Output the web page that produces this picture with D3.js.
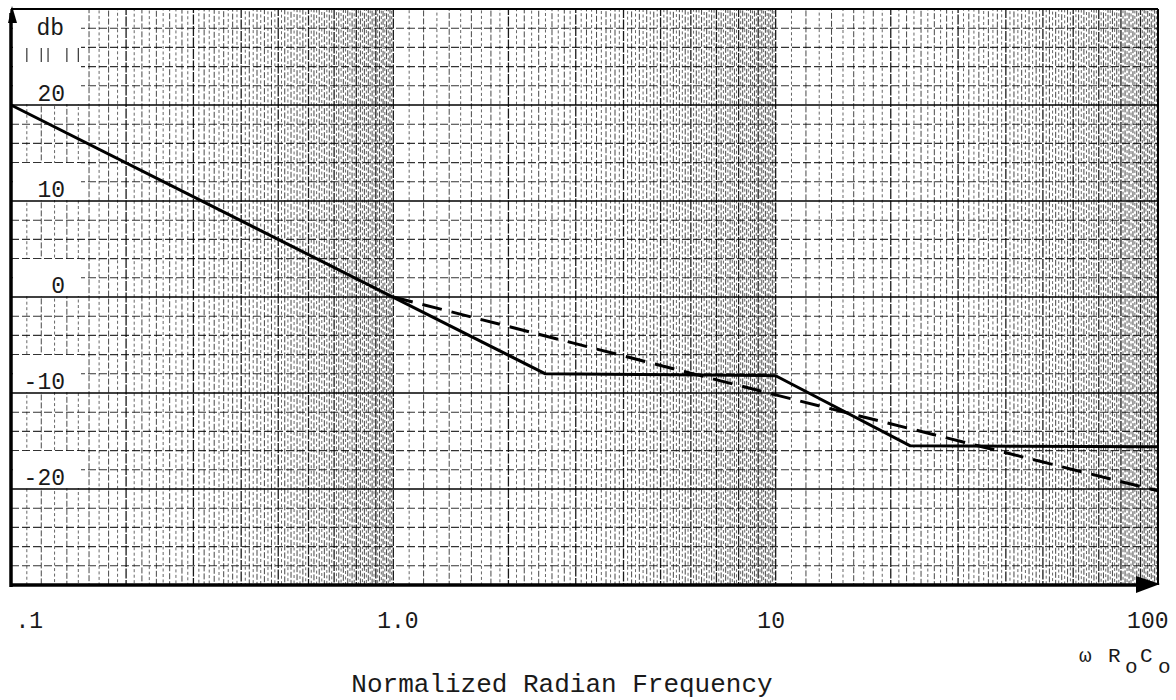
<!DOCTYPE html>
<html>
<head>
<meta charset="utf-8">
<script src="https://cdn.jsdelivr.net/npm/d3@7"></script>
<style>
  html, body { margin: 0; padding: 0; background: #fff; }
  svg { display: block; }
  text { font-family: "Liberation Mono", "DejaVu Sans Mono", monospace; fill: #1a1a1a; }
</style>
</head>
<body>
<svg id="chart" width="1176" height="700"></svg>
<script>
// ---- data ----
const xTickValues = [0.1, 1, 10, 100];
const xTickLabels = [".1", "1.0", "10", "100"];
const yTickValues = [20, 10, 0, -10, -20];
const yTickLabels = ["20", "10", "0", "-10", "-20"];
const solidOmega = [0.1, 2.5, 10, 22.5, 100];
const solidDb    = [20, -8, -8.2, -15.5, -15.6];
const dashedOmega = [1, 10, 100];
const dashedDb    = [0, -10.2, -20.2];
const yUnit = "db";
const xTitle = "Normalized Radian Frequency";

// ---- layout ----
const svg = d3.select("#chart");
const L = 11, R = 1158, T = 9, B = 585;
const x = d3.scaleLog().domain([0.1, 100]).range([L, R]);
const y = d3.scaleLinear().domain([-30, 30]).range([B, T]);

// ---- grid: semi-log paper ----
const grid = svg.append("g");
const vLines = [];
[0.1, 1, 10].forEach(dec => {
  for (let k = 10; k < 100; k++) {
    const m = k / 10;
    vLines.push({ v: m * dec, major: k % 10 === 0, k });
  }
});
grid.selectAll("line.v").data(vLines).join("line")
  .attr("x1", d => x(d.v)).attr("x2", d => x(d.v))
  .attr("y1", T).attr("y2", B)
  .attr("stroke", "#000")
  .attr("stroke-width", d => d.major ? 1.3 : 1)
  .attr("stroke-opacity", d => d.major ? 0.9 : (d.k % 2 === 0 ? 0.72 : 0.6))
  .attr("stroke-dasharray", d => d.major ? "10,1.5" : (d.k % 2 === 0 ? "6,2" : "3,2.5"))
  .attr("stroke-dashoffset", d => (d.k * 2.3) % 7);

const hMinor = d3.range(-30, 31, 2).filter(v => v % 10 !== 0);
grid.selectAll("line.hm").data(hMinor).join("line")
  .attr("x1", L).attr("x2", R)
  .attr("y1", d => y(d)).attr("y2", d => y(d))
  .attr("stroke", "#000").attr("stroke-width", 1.1)
  .attr("stroke-opacity", 0.8).attr("stroke-dasharray", "8,3");

const hMajor = d3.range(-20, 21, 10);
grid.selectAll("line.hM").data(hMajor).join("line")
  .attr("x1", L).attr("x2", R)
  .attr("y1", d => y(d)).attr("y2", d => y(d))
  .attr("stroke", "#000").attr("stroke-width", 1.7);

// white label boxes (erased paper behind the y labels)
const boxes = svg.append("g");
boxes.append("rect").attr("x", L + 2).attr("y", T + 1).attr("width", 68).attr("height", y(20) - T - 2).attr("fill", "#fff");
yTickValues.filter(v => v !== 20).forEach(v => {
  boxes.append("rect").attr("x", L + 2).attr("y", y(v) - 38).attr("width", 68).attr("height", 37).attr("fill", "#fff");
});
// little grid remnants under "db"
[0.11, 0.12, 0.125, 0.14, 0.15].forEach(v => {
  boxes.append("line").attr("x1", x(v)).attr("x2", x(v)).attr("y1", 48).attr("y2", 62)
    .attr("stroke", "#000").attr("stroke-width", 1.2).attr("stroke-opacity", 0.8);
});

// border
svg.append("line").attr("x1", L).attr("x2", R).attr("y1", T).attr("y2", T).attr("stroke", "#000").attr("stroke-width", 1.8);
svg.append("line").attr("x1", R).attr("x2", R).attr("y1", T).attr("y2", B).attr("stroke", "#000").attr("stroke-width", 2);

// ---- curves ----
const line = d3.line().x(d => x(d[0])).y(d => y(d[1]));
svg.append("path")
  .datum(dashedOmega.map((w, i) => [w, dashedDb[i]]))
  .attr("d", line).attr("fill", "none").attr("stroke", "#000")
  .attr("stroke-width", 3).attr("stroke-dasharray", "20,10");
svg.append("path")
  .datum(solidOmega.map((w, i) => [w, solidDb[i]]))
  .attr("d", line).attr("fill", "none").attr("stroke", "#000")
  .attr("stroke-width", 3).attr("stroke-linejoin", "round");

// ---- axes lines with arrows ----
svg.append("line").attr("x1", L).attr("x2", L).attr("y1", T + 4).attr("y2", B + 2).attr("stroke", "#000").attr("stroke-width", 3.5);
svg.append("line").attr("x1", L - 1).attr("x2", R - 10).attr("y1", B).attr("y2", B).attr("stroke", "#000").attr("stroke-width", 3.5);
svg.append("path").attr("d", `M${L + 1},${T - 3} L${L + 6},${T + 14} L${L - 3},${T + 14} Z`).attr("fill", "#000");
svg.append("path").attr("d", `M${R + 2},${B - 1} L${R - 22},${B - 9} L${R - 22},${B + 8} Z`).attr("fill", "#000");

// ---- x tick labels via axis ----
const xNudge = { ".1": ["start", 4], "1.0": ["middle", 4], "10": ["middle", -5], "100": ["end", 10] };
const gx = svg.append("g").attr("transform", `translate(0,${B})`)
  .call(d3.axisBottom(x).tickValues(xTickValues).tickFormat((d, i) => xTickLabels[i]).tickSize(0));
gx.select(".domain").remove();
gx.selectAll("text")
  .attr("y", 43).attr("dy", 0)
  .attr("font-size", 23)
  .attr("font-family", "Liberation Mono")
  .attr("fill", "#1a1a1a")
  .attr("text-anchor", function () { return xNudge[this.textContent][0]; })
  .attr("dx", function () { return xNudge[this.textContent][1]; });

// ---- y tick labels via axis ----
const gy = svg.append("g").attr("transform", "translate(65,0)")
  .call(d3.axisLeft(y).tickValues(yTickValues).tickFormat((d, i) => yTickLabels[i]).tickSize(0));
gy.select(".domain").remove();
gy.selectAll("text")
  .attr("x", 0).attr("dy", -5)
  .attr("font-size", 23)
  .attr("font-family", "Liberation Mono")
  .attr("fill", "#1a1a1a");

// unit label
svg.append("text").attr("x", 64).attr("y", 35).attr("text-anchor", "end")
  .attr("font-size", 23).text(yUnit);

// x variable label ω R_o C_o
const wl = svg.append("text").attr("x", 1079).attr("y", 662).attr("font-size", 21);
wl.append("tspan").text("ω");
wl.append("tspan").attr("x", 1108).text("R");
wl.append("tspan").attr("x", 1125).attr("dy", 11).text("o");
wl.append("tspan").attr("x", 1140).attr("dy", -11).text("C");
wl.append("tspan").attr("x", 1158).attr("dy", 11).text("o");

// title
svg.append("text").attr("x", 562).attr("y", 692).attr("text-anchor", "middle")
  .attr("font-size", 26).text(xTitle);
</script>
</body>
</html>
